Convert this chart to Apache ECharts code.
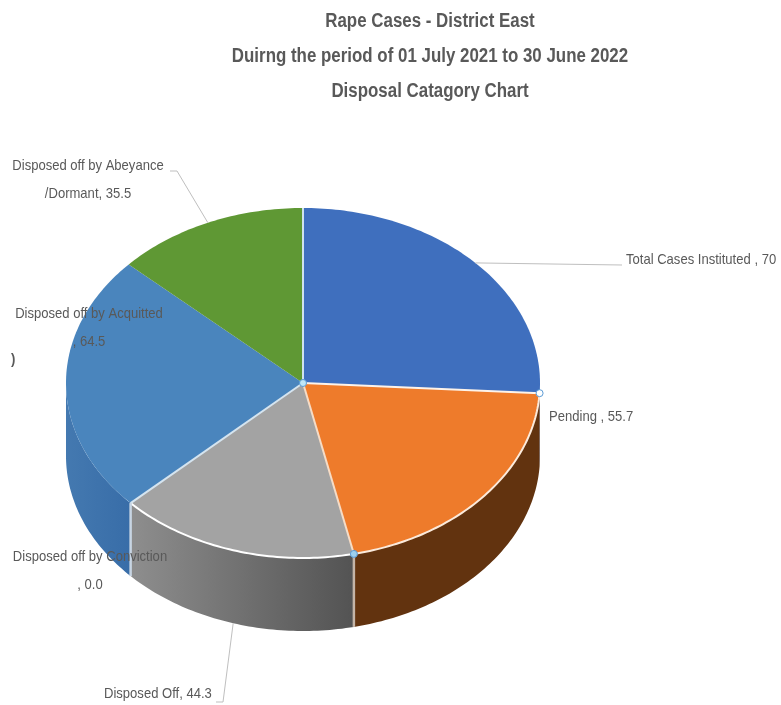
<!DOCTYPE html>
<html>
<head>
<meta charset="utf-8">
<title>Rape Cases - District East</title>
<style>html,body{margin:0;padding:0;background:#fff}#chart{width:781px;height:705px}</style>
<script src="https://cdn.jsdelivr.net/npm/echarts@6/dist/echarts.min.js"></script>
</head>
<body>
<div id="chart"></div>
<script>
// Disposal categories, clockwise from twelve o'clock
const categories = [
  'Total Cases Instituted ',
  'Pending ',
  'Disposed off by Conviction\n',
  'Disposed Off',
  'Disposed off by Acquitted\n',
  'Disposed off by Abeyance\n/Dormant'
];
const valueLabels = ['70', '55.7', '0.0', '44.3', '64.5', '35.5'];
const values = valueLabels.map(Number);
const titleLines = [
  'Rape Cases - District East',
  'Duirng the period of 01 July 2021 to 30 June 2022',
  'Disposal Catagory Chart'
];

// Slice paint
const topColors = ['#3f6fbe', '#ee7b2b', '#a5a5a5', '#a3a3a3', '#4a85bd', '#5f9834'];
const wallColors = [
  '#2f5597', '#62330f', '#6e6e6e',
  { type: 'linear', x: 0, y: 0, x2: 1, y2: 0, colorStops: [{ offset: 0, color: '#8e8e8e' }, { offset: 1, color: '#535353' }] },
  { type: 'linear', x: 0, y: 0, x2: 1, y2: 0, colorStops: [{ offset: 0, color: '#4479b0' }, { offset: 1, color: '#386da8' }] },
  '#4a7a28'
];
const radialEdgeColors = ['#cfe3ee', '#fdf3ea', null, '#f6dcc6', '#d5e4ef', null];
const rimEdgeColors = [null, '#fbeadb', null, '#ffffff', null, null];
const wallEdgeColors = [null, null, null, '#c4b5a8', '#c8d5e3', null];

// Disc geometry on the page
const disc = { cx: 303, cy: 383, rx: 237, ry: 175, depth: 73 };

// The text runs in a condensed face, so the regular sans is squeezed horizontally
const FONT = '"Liberation Sans", sans-serif';
const LABEL_SQUEEZE = 0.87;
const TITLE_SQUEEZE = 0.845;

// Label text anchors, with the bend of each leader line where one is drawn
const labelLayout = [
  { x: 626, y: 260, align: 'left', bend: [622, 265], elbow: [622, 265], onWall: false },
  { x: 549, y: 417, align: 'left' },
  { x: 90, y: 571, align: 'center' },
  { x: 104, y: 694, align: 'left', bend: [223, 702], elbow: [216, 702], onWall: true },
  { x: 89, y: 328, align: 'center' },
  { x: 88, y: 180, align: 'center', bend: [177, 171], elbow: [170, 171], onWall: false }
];

const total = values.reduce((a, b) => a + b, 0);
let running = 0;
const spans = values.map(v => {
  const start = running / total * 360;
  running += v;
  return [start, running / total * 360];
});

function onRim(deg, drop) {
  const r = deg * Math.PI / 180;
  return [disc.cx + disc.rx * Math.sin(r), disc.cy - disc.ry * Math.cos(r) + (drop || 0)];
}
function arc(a, b, drop) {
  const pts = [];
  const n = Math.max(1, Math.ceil(b - a));
  for (let i = 0; i <= n; i++) pts.push(onRim(a + (b - a) * i / n, drop));
  return pts;
}

function renderWall(params) {
  const i = params.dataIndex;
  const a = Math.max(spans[i][0], 90), b = Math.min(spans[i][1], 270);
  if (b <= a) return { type: 'group', children: [] };
  const pts = arc(a, b, 0).concat(arc(a, b, disc.depth).reverse());
  return { type: 'polygon', shape: { points: pts }, style: { fill: wallColors[i] } };
}
function renderTop(params) {
  const i = params.dataIndex;
  if (values[i] === 0) return { type: 'group', children: [] };
  const pts = [[disc.cx, disc.cy]].concat(arc(spans[i][0], spans[i][1], 0));
  return { type: 'polygon', shape: { points: pts }, style: { fill: topColors[i] } };
}
function renderEdges(params) {
  const i = params.dataIndex;
  const children = [];
  if (radialEdgeColors[i]) {
    children.push({ type: 'polyline', shape: { points: [[disc.cx, disc.cy], onRim(spans[i][0])] },
      style: { stroke: radialEdgeColors[i], lineWidth: 2, fill: null } });
  }
  if (rimEdgeColors[i]) {
    children.push({ type: 'polyline', shape: { points: arc(spans[i][0], spans[i][1], 0) },
      style: { stroke: rimEdgeColors[i], lineWidth: 2, fill: null } });
  }
  if (wallEdgeColors[i]) {
    children.push({ type: 'polyline', shape: { points: [onRim(spans[i][0]), onRim(spans[i][0], disc.depth)] },
      style: { stroke: wallEdgeColors[i], lineWidth: 2.5, fill: null } });
  }
  return { type: 'group', children };
}
function renderLabel(params) {
  const i = params.dataIndex;
  const l = labelLayout[i];
  const children = [];
  if (l.bend) {
    const mid = (spans[i][0] + spans[i][1]) / 2;
    children.push({ type: 'polyline',
      shape: { points: [onRim(mid, l.onWall ? disc.depth : 0), l.bend, l.elbow] },
      style: { stroke: '#bfbfbf', lineWidth: 1, fill: null } });
  }
  children.push({ type: 'text', x: l.x, y: l.y, scaleX: LABEL_SQUEEZE, style: {
    text: categories[i] + ', ' + valueLabels[i],
    x: 0, y: 0, align: l.align, verticalAlign: 'middle',
    fontFamily: FONT, fontSize: 15, lineHeight: 28, fill: '#595959'
  } });
  return { type: 'group', children };
}
// Selection handles: disc centre plus the two ends of the Pending slice
function renderHandle(params) {
  const i = params.dataIndex;
  const mk = (p, fill) => ({ type: 'circle', shape: { cx: p[0], cy: p[1], r: 3.5 },
    style: { fill, stroke: '#5b9bd5', lineWidth: 1 } });
  return i === 1
    ? { type: 'group', children: [mk([disc.cx, disc.cy], '#bfe6f7'), mk(onRim(spans[i][0]), '#ffffff'), mk(onRim(spans[i][1]), '#9dd0ee')] }
    : { type: 'group', children: [] };
}

const layer = (renderItem, z) => ({ type: 'custom', coordinateSystem: 'none', silent: true, z, renderItem, data: values });

const chart = echarts.init(document.getElementById('chart'), null, { renderer: 'canvas' });
chart.setOption({
  animation: false,
  backgroundColor: '#ffffff',
  series: [
    layer(renderWall, 1),
    layer(renderTop, 2),
    layer(renderEdges, 3),
    layer(renderHandle, 4),
    layer(renderLabel, 5)
  ],
  graphic: [
    ...titleLines.map((line, k) => ({
      type: 'text', z: 10, x: 430, y: 21 + 35 * k, scaleX: TITLE_SQUEEZE,
      style: { text: line, x: 0, y: 0, align: 'center', verticalAlign: 'middle', fontFamily: FONT, fontSize: 20, fontWeight: 'bold', fill: '#595959' }
    })),
    {
      type: 'text', z: 10, x: 11, y: 360, scaleX: LABEL_SQUEEZE,
      style: { text: ')', x: 0, y: 0, verticalAlign: 'middle', fontFamily: FONT, fontSize: 15, fontWeight: 'bold', fill: '#595959' }
    }
  ]
});
</script>
</body>
</html>
